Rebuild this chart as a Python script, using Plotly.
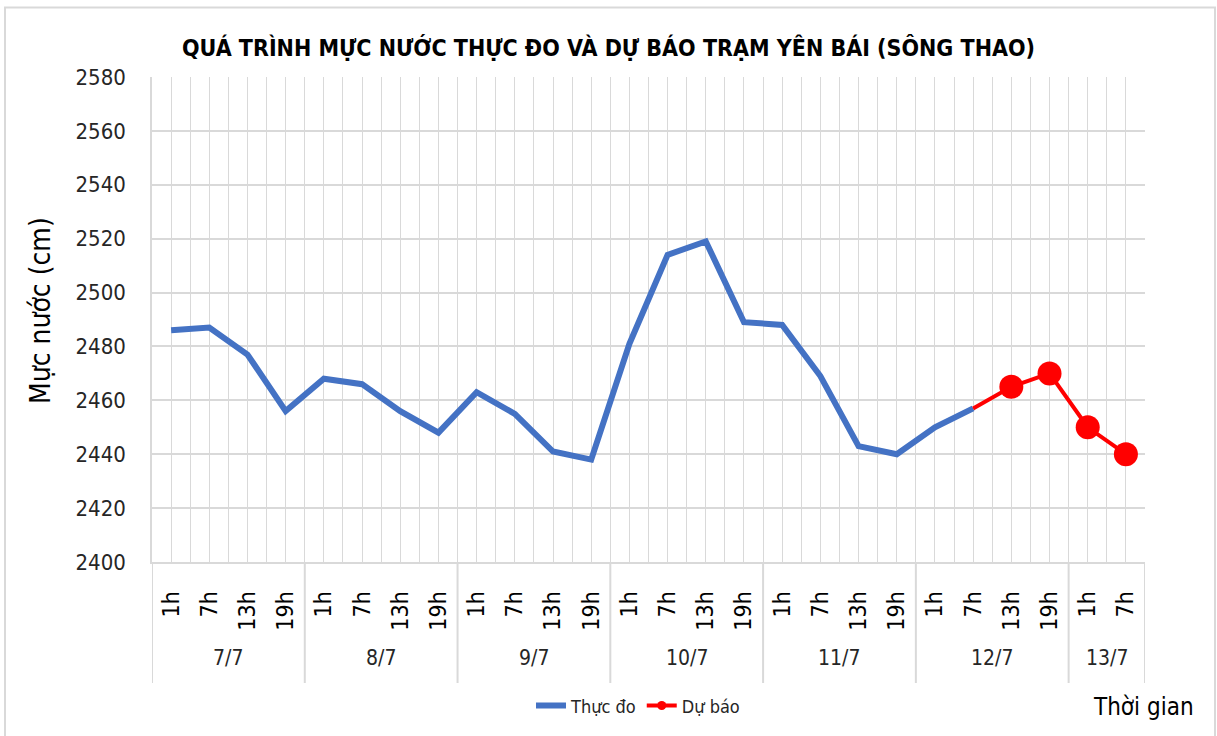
import plotly.graph_objects as go

# ---- data ----
days = ["7/7", "8/7", "9/7", "10/7", "11/7", "12/7", "13/7"]
day_counts = [4, 4, 4, 4, 4, 4, 2]
hours = ["1h", "7h", "13h", "19h",
         "1h", "7h", "13h", "19h",
         "1h", "7h", "13h", "19h",
         "1h", "7h", "13h", "19h",
         "1h", "7h", "13h", "19h",
         "1h", "7h", "13h", "19h",
         "1h", "7h"]
observed = [2486, 2487, 2477, 2456, 2468, 2466, 2456, 2448, 2463, 2455, 2441,
            2438, 2481, 2514, 2519, 2489, 2488, 2469, 2443, 2440, 2450, 2457]
forecast = [2457, 2465, 2470, 2450, 2440]
forecast_start = 21  # index of 12/7 7h, last observed point

title = "QUÁ TRÌNH MỰC NƯỚC THỰC ĐO VÀ DỰ BÁO TRẠM YÊN BÁI (SÔNG THAO)"
y_title = "Mực nước (cm)"
x_title = "Thời gian"
name_obs = "Thực đo"
name_fc = "Dự báo"

# ---- geometry ----
W, H = 1217, 736
L, R, T, B = 152, 72, 77, 170
pw, ph = W - L - R, H - T - B

def px_x(p):
    return (p - L) / pw

def px_y(p):
    return (H - B - p) / ph

FONT = "DejaVu Sans Condensed, DejaVu Sans, sans-serif"
GRID = "#d9d9d9"
BLUE = "#4472C4"
RED = "#FF0000"

n = len(hours)
xs = list(range(n))
x_obs = xs[:len(observed)]
x_fc = xs[forecast_start:forecast_start + len(forecast)]

fig = go.Figure()
fig.add_trace(go.Scatter(x=x_obs, y=observed, mode="lines", name=name_obs,
                         line=dict(color=BLUE, width=6), showlegend=False))
fig.add_trace(go.Scatter(x=x_fc, y=forecast, mode="lines+markers", name=name_fc,
                         line=dict(color=RED, width=4),
                         marker=dict(color=RED, opacity=1, line=dict(width=0),
                                     size=[0] + [24] * (len(forecast) - 1)),
                         showlegend=False))
# legend entries
fig.add_trace(go.Scatter(x=[None], y=[None], mode="lines", name=name_obs,
                         line=dict(color=BLUE, width=6)))
fig.add_trace(go.Scatter(x=[None], y=[None], mode="lines+markers", name=name_fc,
                         line=dict(color=RED, width=4), marker=dict(color=RED, size=9)))

shapes = []
# day separators below axis
bounds = [-0.5]
for c in day_counts:
    bounds.append(bounds[-1] + c)
for b in bounds:
    shapes.append(dict(type="line", xref="x", yref="paper", x0=b, x1=b,
                       y0=0, y1=px_y(688), line=dict(color=GRID, width=2)))
# outer frame
shapes.append(dict(type="rect", xref="paper", yref="paper",
                   x0=px_x(5), x1=px_x(1215), y0=px_y(760), y1=px_y(7),
                   line=dict(color=GRID, width=2), fillcolor="rgba(0,0,0,0)", layer="below"))

annotations = []
pos = 0
for d, c in zip(days, day_counts):
    center = pos + (c - 1) / 2
    annotations.append(dict(x=center, y=px_y(663), xref="x", yref="paper", text=d,
                            showarrow=False, font=dict(family=FONT, size=21, color="#262626"),
                            xanchor="center", yanchor="middle"))
    pos += c
annotations.append(dict(x=px_x(40), y=px_y(313), xref="paper", yref="paper", text=y_title,
                        textangle=-90, showarrow=False,
                        font=dict(family=FONT, size=28, color="#000000"),
                        xanchor="center", yanchor="middle"))
annotations.append(dict(x=px_x(1143), y=px_y(712), xref="paper", yref="paper", text=x_title,
                        showarrow=False, font=dict(family=FONT, size=24, color="#000000"),
                        xanchor="center", yanchor="middle"))

fig.update_layout(
    width=W, height=H,
    margin=dict(l=L, r=R, t=T, b=B, pad=0),
    paper_bgcolor="white", plot_bgcolor="white",
    title=dict(text="<b>" + title + "</b>", x=0.5, xanchor="center",
               y=1 - 48 / H, yanchor="middle",
               font=dict(family=FONT, size=23, color="#000000")),
    xaxis=dict(range=[-0.5, n - 0.5], tickmode="array", tickvals=xs, ticktext=hours,
               tickangle=-90, showgrid=True, gridcolor=GRID, gridwidth=1,
               minor=dict(tick0=-0.5, dtick=1, showgrid=True, gridcolor=GRID, gridwidth=1),
               showline=True, linecolor=GRID, linewidth=2, ticks="", zeroline=False,
               ticklabelstandoff=18,
               tickfont=dict(family=FONT, size=23, color="#000000"), fixedrange=True),
    yaxis=dict(range=[2400, 2580], tickmode="linear", tick0=2400, dtick=20,
               showgrid=True, gridcolor=GRID, gridwidth=1.5,
               showline=True, linecolor=GRID, linewidth=1.5, ticks="", zeroline=False,
               ticklabelstandoff=20,
               tickfont=dict(family=FONT, size=22, color="#262626"), fixedrange=True),
    legend=dict(orientation="h", x=px_x(638), xanchor="center", y=px_y(711), yanchor="middle",
                font=dict(family=FONT, size=18, color="#262626"), bgcolor="rgba(0,0,0,0)"),
    shapes=shapes,
    annotations=annotations,
    showlegend=True,
)

fig.write_html("out.html", config={"displayModeBar": False},
               post_script="document.body.style.margin='0';")
